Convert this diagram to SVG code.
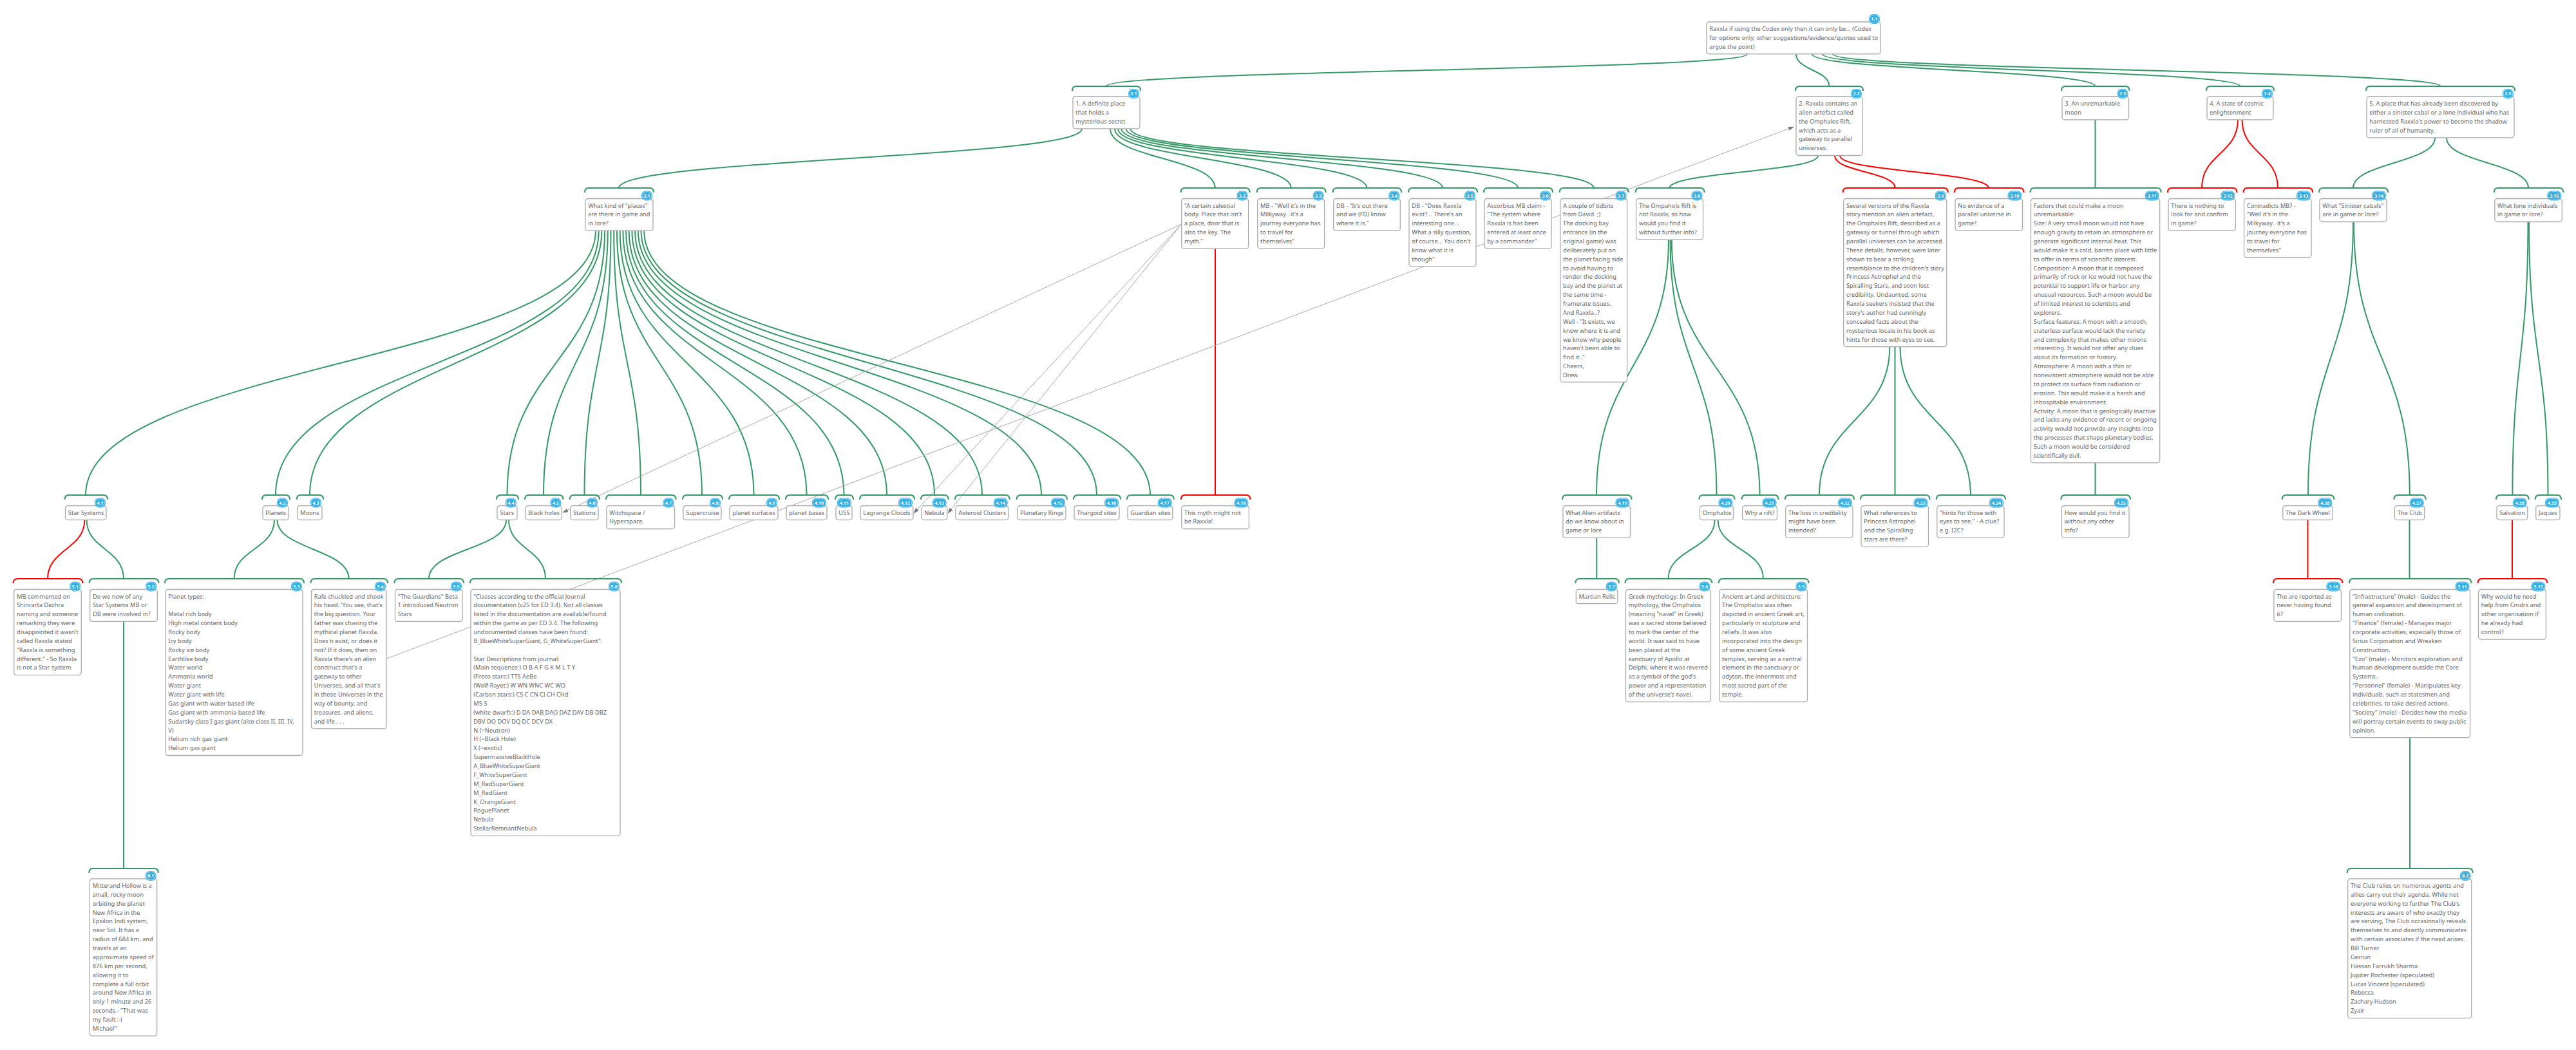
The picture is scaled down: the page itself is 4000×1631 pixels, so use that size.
<svg xmlns="http://www.w3.org/2000/svg" width="4000" height="1631" viewBox="0 0 4000 1631">
<style>
.c,.br{fill:none;stroke:#396;stroke-width:2}
.r{stroke:#f00}
.l{fill:none;stroke:#aaa;stroke-width:1;marker-end:url(#a)}
.b{fill:#fff;stroke:#aaa;stroke-width:1.3}
.t{font-family:"Noto Sans",sans-serif;font-size:9.25px;fill:#666}
.d{fill:#33ade2}
.e{fill:none;stroke:#cdeefa;stroke-width:.7}
.n{font-family:"Noto Sans",sans-serif;font-size:7px;font-weight:700;fill:#fff;text-anchor:middle}
</style>
<defs><marker id="a" markerUnits="userSpaceOnUse" markerWidth="9" markerHeight="7" refX="8" refY="3" orient="auto"><path d="M0 0L9 3L0 6z" fill="#777"/></marker></defs>
<rect width="4000" height="1631" fill="#fff"/>
<g id="connectors">
<path class="c" d="M2713 84C2713 109 1718 109 1718 134"/>
<path class="c" d="M2789 84C2789 109 2840.5 109 2840.5 134"/>
<path class="c" d="M2814 84C2814 109 3253.5 109 3253.5 134"/>
<path class="c" d="M2830 84C2830 109 3478.5 109 3478.5 134"/>
<path class="c" d="M2846 84C2846 109 3789.5 109 3789.5 134"/>
<path class="c" d="M1680 200C1680 246 961 246 961 292"/>
<path class="c" d="M1724 200C1724 246 1886.7 246 1886.7 292"/>
<path class="c" d="M1731 200C1731 246 2004.7 246 2004.7 292"/>
<path class="c" d="M1736 200C1736 246 2122.5 246 2122.5 292"/>
<path class="c" d="M1741.5 200C1741.5 246 2240 246 2240 292"/>
<path class="c" d="M1748.5 200C1748.5 246 2357 246 2357 292"/>
<path class="c" d="M1755.5 200C1755.5 246 2474.6 246 2474.6 292"/>
<path class="c" d="M2823 241.7C2823 267 2592.5 267 2592.5 292"/>
<path class="c r" d="M2849 241.7C2849 267 2942.7 267 2942.7 292"/>
<path class="c r" d="M2857 241.7C2857 267 3088 267 3088 292"/>
<path class="c" d="M3253.5 186V292"/>
<path class="c r" d="M3475 186C3475 239 3419 239 3419 292"/>
<path class="c r" d="M3481.5 186C3481.5 239 3537 239 3537 292"/>
<path class="c" d="M3781 214C3781 253 3654 253 3654 292"/>
<path class="c" d="M3799 214C3799 253 3926 253 3926 292"/>
<path class="c" d="M925 358C925 564 133 564 133 769"/>
<path class="c" d="M929.7 358C929.7 564 428 564 428 769"/>
<path class="c" d="M934.4 358C934.4 564 481 564 481 769"/>
<path class="c" d="M939.1 358C939.1 564 787.5 564 787.5 769"/>
<path class="c" d="M943.8 358C943.8 564 844 564 844 769"/>
<path class="c" d="M948.5 358C948.5 564 907.5 564 907.5 769"/>
<path class="c" d="M953.2 358C953.2 564 995 564 995 769"/>
<path class="c" d="M957.9 358C957.9 564 1090 564 1090 769"/>
<path class="c" d="M962.6 358C962.6 564 1170.5 564 1170.5 769"/>
<path class="c" d="M967.3 358C967.3 564 1252.5 564 1252.5 769"/>
<path class="c" d="M972 358C972 564 1310.5 564 1310.5 769"/>
<path class="c" d="M976.7 358C976.7 564 1377 564 1377 769"/>
<path class="c" d="M981.4 358C981.4 564 1451 564 1451 769"/>
<path class="c" d="M986.1 358C986.1 564 1525 564 1525 769"/>
<path class="c" d="M990.8 358C990.8 564 1617 564 1617 769"/>
<path class="c" d="M995.5 358C995.5 564 1703 564 1703 769"/>
<path class="c" d="M1000.2 358C1000.2 564 1786 564 1786 769"/>
<path class="c r" d="M1887 385.7V769"/>
<path class="c" d="M2591 371.7C2591 570 2479 570 2479 769"/>
<path class="c" d="M2593.5 371.7C2593.5 570 2665.5 570 2665.5 769"/>
<path class="c" d="M2595.7 371.7C2595.7 570 2732.5 570 2732.5 769"/>
<path class="c" d="M2934.4 538C2934.4 653 2825 653 2825 769"/>
<path class="c" d="M2942.5 538V769"/>
<path class="c" d="M2950.5 538C2950.5 653 3060 653 3060 769"/>
<path class="c" d="M3253.5 718.7V769"/>
<path class="c" d="M3654 344C3654 556 3584 556 3584 769"/>
<path class="c" d="M3655 344C3655 556 3741.8 556 3741.8 769"/>
<path class="c" d="M3925.5 344C3925.5 556 3901.4 556 3901.4 769"/>
<path class="c" d="M3927 344C3927 556 3956.5 556 3956.5 769"/>
<path class="c r" d="M131.4 807.7C131.4 853 74 853 74 899"/>
<path class="c" d="M134.6 807.7C134.6 853 192 853 192 899"/>
<path class="c" d="M426 807.7C426 853 363.5 853 363.5 899"/>
<path class="c" d="M430.5 807.7C430.5 853 541.7 853 541.7 899"/>
<path class="c" d="M786 807.7C786 853 666 853 666 899"/>
<path class="c" d="M790 807.7C790 853 847 853 847 899"/>
<path class="c" d="M2479.3 835.4V899"/>
<path class="c" d="M2662.7 807.7C2662.7 853 2590.5 853 2590.5 899"/>
<path class="c" d="M2667.6 807.7C2667.6 853 2738 853 2738 899"/>
<path class="c r" d="M3583.5 807.7V899"/>
<path class="c" d="M3741.5 807.7V899"/>
<path class="c r" d="M3901 807.7V899"/>
<path class="c" d="M192 965.4V1349"/>
<path class="c" d="M3742 1145.7V1349"/>
<path class="l" d="M600.5 1023L2785 197"/>
<path class="l" d="M1834.7 348L874 796"/>
<path class="l" d="M1834.7 348L1419 797"/>
<path class="l" d="M1834.7 348L1472 797"/>
</g>
<g id="n1_1"><rect class="b" x="2650" y="34" width="270" height="49.9" rx="4"/><text class="t" y="48"><tspan x="2654.3">Raxxla if using the Codex only then it can only be... (Codex</tspan><tspan x="2654.3" dy="13.87">for options only, other suggestions/evidence/quotes used to</tspan><tspan x="2654.3" dy="13.87">argue the point)</tspan></text><rect class="d" x="2902" y="22" width="17" height="15" rx="7"/><rect class="e" x="2903.2" y="23.2" width="14.6" height="12.6" rx="6"/><text class="n" x="2910.5" y="32.3">1.1</text></g>
<g id="n2_1"><path class="br" d="M1665 157q0-7 6-7H1765q6 0 6 7" transform="translate(0 -16)"/><rect class="b" x="1666" y="150" width="104" height="49.9" rx="4"/><text class="t" y="164"><tspan x="1670.3">1. A definite place</tspan><tspan x="1670.3" dy="13.87">that holds a</tspan><tspan x="1670.3" dy="13.87">mysterious secret</tspan></text><rect class="d" x="1752" y="138" width="17" height="15" rx="7"/><rect class="e" x="1753.2" y="139.2" width="14.6" height="12.6" rx="6"/><text class="n" x="1760.5" y="148.3">2.1</text></g>
<g id="n2_2"><path class="br" d="M2788 141q0-7 6-7H2887q6 0 6 7"/><rect class="b" x="2789" y="150" width="103" height="91.5" rx="4"/><text class="t" y="164"><tspan x="2793.3">2. Raxxla contains an</tspan><tspan x="2793.3" dy="13.87">alien artefact called</tspan><tspan x="2793.3" dy="13.87">the Omphalos Rift,</tspan><tspan x="2793.3" dy="13.87">which acts as a</tspan><tspan x="2793.3" dy="13.87">gateway to parallel</tspan><tspan x="2793.3" dy="13.87">universes.</tspan></text><rect class="d" x="2874" y="138" width="17" height="15" rx="7"/><rect class="e" x="2875.2" y="139.2" width="14.6" height="12.6" rx="6"/><text class="n" x="2882.5" y="148.3">2.2</text></g>
<g id="n2_3"><path class="br" d="M3201 141q0-7 6-7H3300.5q6 0 6 7"/><rect class="b" x="3202" y="150" width="103.5" height="36" rx="4"/><text class="t" y="164"><tspan x="3206.3">3. An unremarkable</tspan><tspan x="3206.3" dy="13.87">moon</tspan></text><rect class="d" x="3287.5" y="138" width="17" height="15" rx="7"/><rect class="e" x="3288.7" y="139.2" width="14.6" height="12.6" rx="6"/><text class="n" x="3296" y="148.3">2.3</text></g>
<g id="n2_4"><path class="br" d="M3426 141q0-7 6-7H3525q6 0 6 7"/><rect class="b" x="3427" y="150" width="103" height="36" rx="4"/><text class="t" y="164"><tspan x="3431.3">4. A state of cosmic</tspan><tspan x="3431.3" dy="13.87">enlightenment</tspan></text><rect class="d" x="3512" y="138" width="17" height="15" rx="7"/><rect class="e" x="3513.2" y="139.2" width="14.6" height="12.6" rx="6"/><text class="n" x="3520.5" y="148.3">2.4</text></g>
<g id="n2_5"><path class="br" d="M3674 141q0-7 6-7H3899q6 0 6 7"/><rect class="b" x="3675" y="150" width="229" height="63.8" rx="4"/><text class="t" y="164"><tspan x="3679.3">5. A place that has already been discovered by</tspan><tspan x="3679.3" dy="13.87">either a sinister cabal or a lone individual who has</tspan><tspan x="3679.3" dy="13.87">harnessed Raxxla's power to become the shadow</tspan><tspan x="3679.3" dy="13.87">ruler of all of humanity.</tspan></text><rect class="d" x="3886" y="138" width="17" height="15" rx="7"/><rect class="e" x="3887.2" y="139.2" width="14.6" height="12.6" rx="6"/><text class="n" x="3894.5" y="148.3">2.5</text></g>
<g id="n3_1"><path class="br" d="M908 299q0-7 6-7H1009q6 0 6 7"/><rect class="b" x="909" y="308.5" width="105" height="49.9" rx="4"/><text class="t" y="322.5"><tspan x="913.3">What kind of "places"</tspan><tspan x="913.3" dy="13.87">are there in game and</tspan><tspan x="913.3" dy="13.87">in lore?</tspan></text><rect class="d" x="996" y="296.5" width="17" height="15" rx="7"/><rect class="e" x="997.2" y="297.7" width="14.6" height="12.6" rx="6"/><text class="n" x="1004.5" y="306.8">3.1</text></g>
<g id="n3_2"><path class="br" d="M1833.7 299q0-7 6-7H1934.6q6 0 6 7"/><rect class="b" x="1834.7" y="308.5" width="103.9" height="77.7" rx="4"/><text class="t" y="322.5"><tspan x="1839">"A certain celestial</tspan><tspan x="1839" dy="13.87">body. Place that isn't</tspan><tspan x="1839" dy="13.87">a place, door that is</tspan><tspan x="1839" dy="13.87">also the key. The</tspan><tspan x="1839" dy="13.87">myth."</tspan></text><rect class="d" x="1920.6" y="296.5" width="17" height="15" rx="7"/><rect class="e" x="1921.8" y="297.7" width="14.6" height="12.6" rx="6"/><text class="n" x="1929.1" y="306.8">3.2</text></g>
<g id="n3_3"><path class="br" d="M1951.7 299q0-7 6-7H2052.6q6 0 6 7"/><rect class="b" x="1952.7" y="308.5" width="103.9" height="77.7" rx="4"/><text class="t" y="322.5"><tspan x="1957">MB - "Well it's in the</tspan><tspan x="1957" dy="13.87">Milkyway.. it's a</tspan><tspan x="1957" dy="13.87">journey everyone has</tspan><tspan x="1957" dy="13.87">to travel for</tspan><tspan x="1957" dy="13.87">themselves"</tspan></text><rect class="d" x="2038.6" y="296.5" width="17" height="15" rx="7"/><rect class="e" x="2039.8" y="297.7" width="14.6" height="12.6" rx="6"/><text class="n" x="2047.1" y="306.8">3.3</text></g>
<g id="n3_4"><path class="br" d="M2069.7 299q0-7 6-7H2170q6 0 6 7"/><rect class="b" x="2070.7" y="308.5" width="103.6" height="49.9" rx="4"/><text class="t" y="322.5"><tspan x="2075">DB - "It's out there</tspan><tspan x="2075" dy="13.87">and we (FD) know</tspan><tspan x="2075" dy="13.87">where it is."</tspan></text><rect class="d" x="2156.3" y="296.5" width="17" height="15" rx="7"/><rect class="e" x="2157.5" y="297.7" width="14.6" height="12.6" rx="6"/><text class="n" x="2164.8" y="306.8">3.4</text></g>
<g id="n3_5"><path class="br" d="M2187 299q0-7 6-7H2288q6 0 6 7"/><rect class="b" x="2188" y="308.5" width="104" height="105.4" rx="4"/><text class="t" y="322.5"><tspan x="2192.3">DB - "Does Raxxla</tspan><tspan x="2192.3" dy="13.87">exist?... There's an</tspan><tspan x="2192.3" dy="13.87">interesting one...</tspan><tspan x="2192.3" dy="13.87">What a silly question,</tspan><tspan x="2192.3" dy="13.87">of course... You don't</tspan><tspan x="2192.3" dy="13.87">know what it is</tspan><tspan x="2192.3" dy="13.87">though"</tspan></text><rect class="d" x="2274" y="296.5" width="17" height="15" rx="7"/><rect class="e" x="2275.2" y="297.7" width="14.6" height="12.6" rx="6"/><text class="n" x="2282.5" y="306.8">3.5</text></g>
<g id="n3_6"><path class="br" d="M2304 299q0-7 6-7H2405q6 0 6 7"/><rect class="b" x="2305" y="308.5" width="104" height="77.7" rx="4"/><text class="t" y="322.5"><tspan x="2309.3">Ascorbius MB claim -</tspan><tspan x="2309.3" dy="13.87">"The system where</tspan><tspan x="2309.3" dy="13.87">Raxxla is has been</tspan><tspan x="2309.3" dy="13.87">entered at least once</tspan><tspan x="2309.3" dy="13.87">by a commander"</tspan></text><rect class="d" x="2391" y="296.5" width="17" height="15" rx="7"/><rect class="e" x="2392.2" y="297.7" width="14.6" height="12.6" rx="6"/><text class="n" x="2399.5" y="306.8">3.6</text></g>
<g id="n3_7"><path class="br" d="M2421.7 299q0-7 6-7H2522.6q6 0 6 7"/><rect class="b" x="2422.7" y="308.5" width="103.9" height="285" rx="4"/><text class="t" y="322.5"><tspan x="2427">A couple of tidbits</tspan><tspan x="2427" dy="13.87">from David. ;)</tspan><tspan x="2427" dy="13.87">The docking bay</tspan><tspan x="2427" dy="13.87">entrance (in the</tspan><tspan x="2427" dy="13.87">original game) was</tspan><tspan x="2427" dy="13.87">deliberately put on</tspan><tspan x="2427" dy="13.87">the planet facing side</tspan><tspan x="2427" dy="13.87">to avoid having to</tspan><tspan x="2427" dy="13.87">render the docking</tspan><tspan x="2427" dy="13.87">bay and the planet at</tspan><tspan x="2427" dy="13.87">the same time -</tspan><tspan x="2427" dy="13.87">framerate issues.</tspan><tspan x="2427" dy="13.87">And Raxxla..?</tspan><tspan x="2427" dy="13.87">Well - "It exists, we</tspan><tspan x="2427" dy="13.87">know where it is and</tspan><tspan x="2427" dy="13.87">we know why people</tspan><tspan x="2427" dy="13.87">haven't been able to</tspan><tspan x="2427" dy="13.87">find it.."</tspan><tspan x="2427" dy="13.87">Cheers,</tspan><tspan x="2427" dy="13.87">Drew.</tspan></text><rect class="d" x="2508.6" y="296.5" width="17" height="15" rx="7"/><rect class="e" x="2509.8" y="297.7" width="14.6" height="12.6" rx="6"/><text class="n" x="2517.1" y="306.8">3.7</text></g>
<g id="n3_8"><path class="br" d="M2539.6 299q0-7 6-7H2640.5q6 0 6 7"/><rect class="b" x="2540.6" y="308.5" width="103.9" height="63.8" rx="4"/><text class="t" y="322.5"><tspan x="2544.9">The Ompahols Rift is</tspan><tspan x="2544.9" dy="13.87">not Raxxla, so how</tspan><tspan x="2544.9" dy="13.87">would you find it</tspan><tspan x="2544.9" dy="13.87">without further info?</tspan></text><rect class="d" x="2626.5" y="296.5" width="17" height="15" rx="7"/><rect class="e" x="2627.7" y="297.7" width="14.6" height="12.6" rx="6"/><text class="n" x="2635" y="306.8">3.8</text></g>
<g id="n3_9"><path class="br r" d="M2861.7 299q0-7 6-7H3018.8q6 0 6 7"/><rect class="b" x="2862.7" y="308.5" width="160.1" height="230" rx="4"/><text class="t" y="322.5"><tspan x="2867">Several versions of the Raxxla</tspan><tspan x="2867" dy="13.87">story mention an alien artefact,</tspan><tspan x="2867" dy="13.87">the Omphalos Rift, described as a</tspan><tspan x="2867" dy="13.87">gateway or tunnel through which</tspan><tspan x="2867" dy="13.87">parallel universes can be accessed.</tspan><tspan x="2867" dy="13.87">These details, however, were later</tspan><tspan x="2867" dy="13.87">shown to bear a striking</tspan><tspan x="2867" dy="13.87">resemblance to the children's story</tspan><tspan x="2867" dy="13.87">Princess Astrophel and the</tspan><tspan x="2867" dy="13.87">Spiralling Stars, and soon lost</tspan><tspan x="2867" dy="13.87">credibility. Undaunted, some</tspan><tspan x="2867" dy="13.87">Raxxla seekers insisted that the</tspan><tspan x="2867" dy="13.87">story's author had cunningly</tspan><tspan x="2867" dy="13.87">concealed facts about the</tspan><tspan x="2867" dy="13.87">mysterious locale in his book as</tspan><tspan x="2867" dy="13.87">hints for those with eyes to see.</tspan></text><rect class="d" x="3004.8" y="296.5" width="17" height="15" rx="7"/><rect class="e" x="3006" y="297.7" width="14.6" height="12.6" rx="6"/><text class="n" x="3013.3" y="306.8">3.9</text></g>
<g id="n3_10"><path class="br r" d="M3035 299q0-7 6-7H3136.5q6 0 6 7"/><rect class="b" x="3036" y="308.5" width="104.5" height="49.9" rx="4"/><text class="t" y="322.5"><tspan x="3040.3">No evidence of a</tspan><tspan x="3040.3" dy="13.87">parallel universe in</tspan><tspan x="3040.3" dy="13.87">game?</tspan></text><rect class="d" x="3117.5" y="296.5" width="22" height="15" rx="7"/><rect class="e" x="3118.7" y="297.7" width="19.6" height="12.6" rx="6"/><text class="n" x="3128.5" y="306.8">3.10</text></g>
<g id="n3_11"><path class="br" d="M3152.5 299q0-7 6-7H3349.7q6 0 6 7"/><rect class="b" x="3153.5" y="308.5" width="200.2" height="410.3" rx="4"/><text class="t" y="322.5"><tspan x="3157.8">Factors that could make a moon</tspan><tspan x="3157.8" dy="13.87">unremarkable:</tspan><tspan x="3157.8" dy="13.87">Size: A very small moon would not have</tspan><tspan x="3157.8" dy="13.87">enough gravity to retain an atmosphere or</tspan><tspan x="3157.8" dy="13.87">generate significant internal heat. This</tspan><tspan x="3157.8" dy="13.87">would make it a cold, barren place with little</tspan><tspan x="3157.8" dy="13.87">to offer in terms of scientific interest.</tspan><tspan x="3157.8" dy="13.87">Composition: A moon that is composed</tspan><tspan x="3157.8" dy="13.87">primarily of rock or ice would not have the</tspan><tspan x="3157.8" dy="13.87">potential to support life or harbor any</tspan><tspan x="3157.8" dy="13.87">unusual resources. Such a moon would be</tspan><tspan x="3157.8" dy="13.87">of limited interest to scientists and</tspan><tspan x="3157.8" dy="13.87">explorers.</tspan><tspan x="3157.8" dy="13.87">Surface features: A moon with a smooth,</tspan><tspan x="3157.8" dy="13.87">craterless surface would lack the variety</tspan><tspan x="3157.8" dy="13.87">and complexity that makes other moons</tspan><tspan x="3157.8" dy="13.87">interesting. It would not offer any clues</tspan><tspan x="3157.8" dy="13.87">about its formation or history.</tspan><tspan x="3157.8" dy="13.87">Atmosphere: A moon with a thin or</tspan><tspan x="3157.8" dy="13.87">nonexistent atmosphere would not be able</tspan><tspan x="3157.8" dy="13.87">to protect its surface from radiation or</tspan><tspan x="3157.8" dy="13.87">erosion. This would make it a harsh and</tspan><tspan x="3157.8" dy="13.87">inhospitable environment.</tspan><tspan x="3157.8" dy="13.87">Activity: A moon that is geologically inactive</tspan><tspan x="3157.8" dy="13.87">and lacks any evidence of recent or ongoing</tspan><tspan x="3157.8" dy="13.87">activity would not provide any insights into</tspan><tspan x="3157.8" dy="13.87">the processes that shape planetary bodies.</tspan><tspan x="3157.8" dy="13.87">Such a moon would be considered</tspan><tspan x="3157.8" dy="13.87">scientifically dull.</tspan></text><rect class="d" x="3330.7" y="296.5" width="22" height="15" rx="7"/><rect class="e" x="3331.9" y="297.7" width="19.6" height="12.6" rx="6"/><text class="n" x="3341.7" y="306.8">3.11</text></g>
<g id="n3_12"><path class="br r" d="M3366 299q0-7 6-7H3467.4q6 0 6 7"/><rect class="b" x="3367" y="308.5" width="104.4" height="49.9" rx="4"/><text class="t" y="322.5"><tspan x="3371.3">There is nothing to</tspan><tspan x="3371.3" dy="13.87">look for and confirm</tspan><tspan x="3371.3" dy="13.87">in game?</tspan></text><rect class="d" x="3448.4" y="296.5" width="22" height="15" rx="7"/><rect class="e" x="3449.6" y="297.7" width="19.6" height="12.6" rx="6"/><text class="n" x="3459.4" y="306.8">3.12</text></g>
<g id="n3_13"><path class="br r" d="M3483.6 299q0-7 6-7H3585q6 0 6 7"/><rect class="b" x="3484.6" y="308.5" width="104.4" height="91.5" rx="4"/><text class="t" y="322.5"><tspan x="3488.9">Contradicts MB? -</tspan><tspan x="3488.9" dy="13.87">"Well it's in the</tspan><tspan x="3488.9" dy="13.87">Milkyway.. it's a</tspan><tspan x="3488.9" dy="13.87">journey everyone has</tspan><tspan x="3488.9" dy="13.87">to travel for</tspan><tspan x="3488.9" dy="13.87">themselves"</tspan></text><rect class="d" x="3566" y="296.5" width="22" height="15" rx="7"/><rect class="e" x="3567.2" y="297.7" width="19.6" height="12.6" rx="6"/><text class="n" x="3577" y="306.8">3.13</text></g>
<g id="n3_14"><path class="br" d="M3601 299q0-7 6-7H3702q6 0 6 7"/><rect class="b" x="3602" y="308.5" width="104" height="36" rx="4"/><text class="t" y="322.5"><tspan x="3606.3">What "Sinister cabals"</tspan><tspan x="3606.3" dy="13.87">are in game or lore?</tspan></text><rect class="d" x="3683" y="296.5" width="22" height="15" rx="7"/><rect class="e" x="3684.2" y="297.7" width="19.6" height="12.6" rx="6"/><text class="n" x="3694" y="306.8">3.14</text></g>
<g id="n3_15"><path class="br" d="M3872.8 299q0-7 6-7H3974.3q6 0 6 7"/><rect class="b" x="3873.8" y="308.5" width="104.5" height="36" rx="4"/><text class="t" y="322.5"><tspan x="3878.1">What lone individuals</tspan><tspan x="3878.1" dy="13.87">in game or lore?</tspan></text><rect class="d" x="3955.3" y="296.5" width="22" height="15" rx="7"/><rect class="e" x="3956.5" y="297.7" width="19.6" height="12.6" rx="6"/><text class="n" x="3966.3" y="306.8">3.15</text></g>
<g id="n4_1"><path class="br" d="M100.5 776q0-7 6-7H161q6 0 6 7"/><rect class="b" x="101.5" y="785.5" width="63.5" height="22.2" rx="4"/><text class="t" y="799.5"><tspan x="105.8">Star Systems</tspan></text><rect class="d" x="147" y="773.5" width="17" height="15" rx="7"/><rect class="e" x="148.2" y="774.7" width="14.6" height="12.6" rx="6"/><text class="n" x="155.5" y="783.8">4.1</text></g>
<g id="n4_2"><path class="br" d="M407 776q0-7 6-7H444q6 0 6 7"/><rect class="b" x="408" y="785.5" width="40" height="22.2" rx="4"/><text class="t" y="799.5"><tspan x="412.3">Planets</tspan></text><rect class="d" x="430" y="773.5" width="17" height="15" rx="7"/><rect class="e" x="431.2" y="774.7" width="14.6" height="12.6" rx="6"/><text class="n" x="438.5" y="783.8">4.2</text></g>
<g id="n4_3"><path class="br" d="M460.7 776q0-7 6-7H496q6 0 6 7"/><rect class="b" x="461.7" y="785.5" width="38.3" height="22.2" rx="4"/><text class="t" y="799.5"><tspan x="466">Moons</tspan></text><rect class="d" x="482" y="773.5" width="17" height="15" rx="7"/><rect class="e" x="483.2" y="774.7" width="14.6" height="12.6" rx="6"/><text class="n" x="490.5" y="783.8">4.3</text></g>
<g id="n4_4"><path class="br" d="M771 776q0-7 6-7H799q6 0 6 7"/><rect class="b" x="772" y="785.5" width="31" height="22.2" rx="4"/><text class="t" y="799.5"><tspan x="776.3">Stars</tspan></text><rect class="d" x="785" y="773.5" width="17" height="15" rx="7"/><rect class="e" x="786.2" y="774.7" width="14.6" height="12.6" rx="6"/><text class="n" x="793.5" y="783.8">4.4</text></g>
<g id="n4_5"><path class="br" d="M815 776q0-7 6-7H868.4q6 0 6 7"/><rect class="b" x="816" y="785.5" width="56.4" height="22.2" rx="4"/><text class="t" y="799.5"><tspan x="820.3">Black holes</tspan></text><rect class="d" x="854.4" y="773.5" width="17" height="15" rx="7"/><rect class="e" x="855.6" y="774.7" width="14.6" height="12.6" rx="6"/><text class="n" x="862.9" y="783.8">4.5</text></g>
<g id="n4_6"><path class="br" d="M884.8 776q0-7 6-7H925q6 0 6 7"/><rect class="b" x="885.8" y="785.5" width="43.2" height="22.2" rx="4"/><text class="t" y="799.5"><tspan x="890.1">Stations</tspan></text><rect class="d" x="911" y="773.5" width="17" height="15" rx="7"/><rect class="e" x="912.2" y="774.7" width="14.6" height="12.6" rx="6"/><text class="n" x="919.5" y="783.8">4.6</text></g>
<g id="n4_7"><path class="br" d="M941 776q0-7 6-7H1043.6q6 0 6 7"/><rect class="b" x="942" y="785.5" width="105.6" height="36" rx="4"/><text class="t" y="799.5"><tspan x="946.3">Witchspace /</tspan><tspan x="946.3" dy="13.87">Hyperspace</tspan></text><rect class="d" x="1029.6" y="773.5" width="17" height="15" rx="7"/><rect class="e" x="1030.8" y="774.7" width="14.6" height="12.6" rx="6"/><text class="n" x="1038.1" y="783.8">4.7</text></g>
<g id="n4_8"><path class="br" d="M1060 776q0-7 6-7H1116q6 0 6 7"/><rect class="b" x="1061" y="785.5" width="59" height="22.2" rx="4"/><text class="t" y="799.5"><tspan x="1065.3">Supercruise</tspan></text><rect class="d" x="1102" y="773.5" width="17" height="15" rx="7"/><rect class="e" x="1103.2" y="774.7" width="14.6" height="12.6" rx="6"/><text class="n" x="1110.5" y="783.8">4.8</text></g>
<g id="n4_9"><path class="br" d="M1132 776q0-7 6-7H1204q6 0 6 7"/><rect class="b" x="1133" y="785.5" width="75" height="22.2" rx="4"/><text class="t" y="799.5"><tspan x="1137.3">planet surfaces</tspan></text><rect class="d" x="1190" y="773.5" width="17" height="15" rx="7"/><rect class="e" x="1191.2" y="774.7" width="14.6" height="12.6" rx="6"/><text class="n" x="1198.5" y="783.8">4.9</text></g>
<g id="n4_10"><path class="br" d="M1220 776q0-7 6-7H1280q6 0 6 7"/><rect class="b" x="1221" y="785.5" width="63" height="22.2" rx="4"/><text class="t" y="799.5"><tspan x="1225.3">planet bases</tspan></text><rect class="d" x="1261" y="773.5" width="22" height="15" rx="7"/><rect class="e" x="1262.2" y="774.7" width="19.6" height="12.6" rx="6"/><text class="n" x="1272" y="783.8">4.10</text></g>
<g id="n4_11"><path class="br" d="M1297 776q0-7 6-7H1319q6 0 6 7"/><rect class="b" x="1298" y="785.5" width="25" height="22.2" rx="4"/><text class="t" y="799.5"><tspan x="1302.3">USS</tspan></text><rect class="d" x="1300" y="773.5" width="22" height="15" rx="7"/><rect class="e" x="1301.2" y="774.7" width="19.6" height="12.6" rx="6"/><text class="n" x="1311" y="783.8">4.11</text></g>
<g id="n4_12"><path class="br" d="M1335 776q0-7 6-7H1414q6 0 6 7"/><rect class="b" x="1336" y="785.5" width="82" height="22.2" rx="4"/><text class="t" y="799.5"><tspan x="1340.3">Lagrange Clouds</tspan></text><rect class="d" x="1395" y="773.5" width="22" height="15" rx="7"/><rect class="e" x="1396.2" y="774.7" width="19.6" height="12.6" rx="6"/><text class="n" x="1406" y="783.8">4.12</text></g>
<g id="n4_13"><path class="br" d="M1430 776q0-7 6-7H1466.7q6 0 6 7"/><rect class="b" x="1431" y="785.5" width="39.7" height="22.2" rx="4"/><text class="t" y="799.5"><tspan x="1435.3">Nebula</tspan></text><rect class="d" x="1447.7" y="773.5" width="22" height="15" rx="7"/><rect class="e" x="1448.9" y="774.7" width="19.6" height="12.6" rx="6"/><text class="n" x="1458.7" y="783.8">4.13</text></g>
<g id="n4_14"><path class="br" d="M1483 776q0-7 6-7H1561.7q6 0 6 7"/><rect class="b" x="1484" y="785.5" width="81.7" height="22.2" rx="4"/><text class="t" y="799.5"><tspan x="1488.3">Asteroid Clusters</tspan></text><rect class="d" x="1542.7" y="773.5" width="22" height="15" rx="7"/><rect class="e" x="1543.9" y="774.7" width="19.6" height="12.6" rx="6"/><text class="n" x="1553.7" y="783.8">4.14</text></g>
<g id="n4_15"><path class="br" d="M1578.7 776q0-7 6-7H1651q6 0 6 7"/><rect class="b" x="1579.7" y="785.5" width="75.3" height="22.2" rx="4"/><text class="t" y="799.5"><tspan x="1584">Planetary Rings</tspan></text><rect class="d" x="1632" y="773.5" width="22" height="15" rx="7"/><rect class="e" x="1633.2" y="774.7" width="19.6" height="12.6" rx="6"/><text class="n" x="1643" y="783.8">4.15</text></g>
<g id="n4_16"><path class="br" d="M1667 776q0-7 6-7H1734q6 0 6 7"/><rect class="b" x="1668" y="785.5" width="70" height="22.2" rx="4"/><text class="t" y="799.5"><tspan x="1672.3">Thargoid sites</tspan></text><rect class="d" x="1715" y="773.5" width="22" height="15" rx="7"/><rect class="e" x="1716.2" y="774.7" width="19.6" height="12.6" rx="6"/><text class="n" x="1726" y="783.8">4.16</text></g>
<g id="n4_17"><path class="br" d="M1750 776q0-7 6-7H1816.8q6 0 6 7"/><rect class="b" x="1751" y="785.5" width="69.8" height="22.2" rx="4"/><text class="t" y="799.5"><tspan x="1755.3">Guardian sites</tspan></text><rect class="d" x="1797.8" y="773.5" width="22" height="15" rx="7"/><rect class="e" x="1799" y="774.7" width="19.6" height="12.6" rx="6"/><text class="n" x="1808.8" y="783.8">4.17</text></g>
<g id="n4_18"><path class="br r" d="M1833.8 776q0-7 6-7H1935.4q6 0 6 7"/><rect class="b" x="1834.8" y="785.5" width="104.6" height="36" rx="4"/><text class="t" y="799.5"><tspan x="1839.1">This myth might not</tspan><tspan x="1839.1" dy="13.87">be Raxxla!</tspan></text><rect class="d" x="1916.4" y="773.5" width="22" height="15" rx="7"/><rect class="e" x="1917.6" y="774.7" width="19.6" height="12.6" rx="6"/><text class="n" x="1927.4" y="783.8">4.18</text></g>
<g id="n4_19"><path class="br" d="M2426 776q0-7 6-7H2527.5q6 0 6 7"/><rect class="b" x="2427" y="785.5" width="104.5" height="49.9" rx="4"/><text class="t" y="799.5"><tspan x="2431.3">What Alien artifacts</tspan><tspan x="2431.3" dy="13.87">do we know about in</tspan><tspan x="2431.3" dy="13.87">game or lore</tspan></text><rect class="d" x="2508.5" y="773.5" width="22" height="15" rx="7"/><rect class="e" x="2509.7" y="774.7" width="19.6" height="12.6" rx="6"/><text class="n" x="2519.5" y="783.8">4.19</text></g>
<g id="n4_20"><path class="br" d="M2638.5 776q0-7 6-7H2687.5q6 0 6 7"/><rect class="b" x="2639.5" y="785.5" width="52" height="22.2" rx="4"/><text class="t" y="799.5"><tspan x="2643.8">Omphalos</tspan></text><rect class="d" x="2668.5" y="773.5" width="22" height="15" rx="7"/><rect class="e" x="2669.7" y="774.7" width="19.6" height="12.6" rx="6"/><text class="n" x="2679.5" y="783.8">4.20</text></g>
<g id="n4_21"><path class="br" d="M2704.5 776q0-7 6-7H2755.5q6 0 6 7"/><rect class="b" x="2705.5" y="785.5" width="54" height="22.2" rx="4"/><text class="t" y="799.5"><tspan x="2709.8">Why a rift?</tspan></text><rect class="d" x="2736.5" y="773.5" width="22" height="15" rx="7"/><rect class="e" x="2737.7" y="774.7" width="19.6" height="12.6" rx="6"/><text class="n" x="2747.5" y="783.8">4.21</text></g>
<g id="n4_22"><path class="br" d="M2771.8 776q0-7 6-7H2873q6 0 6 7"/><rect class="b" x="2772.8" y="785.5" width="104.2" height="49.9" rx="4"/><text class="t" y="799.5"><tspan x="2777.1">The loss in credibility</tspan><tspan x="2777.1" dy="13.87">might have been</tspan><tspan x="2777.1" dy="13.87">intended?</tspan></text><rect class="d" x="2854" y="773.5" width="22" height="15" rx="7"/><rect class="e" x="2855.2" y="774.7" width="19.6" height="12.6" rx="6"/><text class="n" x="2865" y="783.8">4.22</text></g>
<g id="n4_23"><path class="br" d="M2889 776q0-7 6-7H2990.5q6 0 6 7"/><rect class="b" x="2890" y="785.5" width="104.5" height="63.8" rx="4"/><text class="t" y="799.5"><tspan x="2894.3">What references to</tspan><tspan x="2894.3" dy="13.87">Princess Astrophel</tspan><tspan x="2894.3" dy="13.87">and the Spiralling</tspan><tspan x="2894.3" dy="13.87">stars are there?</tspan></text><rect class="d" x="2971.5" y="773.5" width="22" height="15" rx="7"/><rect class="e" x="2972.7" y="774.7" width="19.6" height="12.6" rx="6"/><text class="n" x="2982.5" y="783.8">4.23</text></g>
<g id="n4_24"><path class="br" d="M3006.8 776q0-7 6-7H3108q6 0 6 7"/><rect class="b" x="3007.8" y="785.5" width="104.2" height="49.9" rx="4"/><text class="t" y="799.5"><tspan x="3012.1">"hints for those with</tspan><tspan x="3012.1" dy="13.87">eyes to see." - A clue?</tspan><tspan x="3012.1" dy="13.87">e.g. I2C?</tspan></text><rect class="d" x="3089" y="773.5" width="22" height="15" rx="7"/><rect class="e" x="3090.2" y="774.7" width="19.6" height="12.6" rx="6"/><text class="n" x="3100" y="783.8">4.24</text></g>
<g id="n4_25"><path class="br" d="M3200.4 776q0-7 6-7H3302q6 0 6 7"/><rect class="b" x="3201.4" y="785.5" width="104.6" height="49.9" rx="4"/><text class="t" y="799.5"><tspan x="3205.7">How would you find it</tspan><tspan x="3205.7" dy="13.87">without any other</tspan><tspan x="3205.7" dy="13.87">info?</tspan></text><rect class="d" x="3283" y="773.5" width="22" height="15" rx="7"/><rect class="e" x="3284.2" y="774.7" width="19.6" height="12.6" rx="6"/><text class="n" x="3294" y="783.8">4.25</text></g>
<g id="n4_26"><path class="br" d="M3543.7 776q0-7 6-7H3618.3q6 0 6 7"/><rect class="b" x="3544.7" y="785.5" width="77.6" height="22.2" rx="4"/><text class="t" y="799.5"><tspan x="3549">The Dark Wheel</tspan></text><rect class="d" x="3599.3" y="773.5" width="22" height="15" rx="7"/><rect class="e" x="3600.5" y="774.7" width="19.6" height="12.6" rx="6"/><text class="n" x="3610.3" y="783.8">4.26</text></g>
<g id="n4_27"><path class="br" d="M3717.4 776q0-7 6-7H3760.7q6 0 6 7"/><rect class="b" x="3718.4" y="785.5" width="46.3" height="22.2" rx="4"/><text class="t" y="799.5"><tspan x="3722.7">The Club</tspan></text><rect class="d" x="3741.7" y="773.5" width="22" height="15" rx="7"/><rect class="e" x="3742.9" y="774.7" width="19.6" height="12.6" rx="6"/><text class="n" x="3752.7" y="783.8">4.27</text></g>
<g id="n4_28"><path class="br" d="M3876 776q0-7 6-7H3920.7q6 0 6 7"/><rect class="b" x="3877" y="785.5" width="47.7" height="22.2" rx="4"/><text class="t" y="799.5"><tspan x="3881.3">Salvation</tspan></text><rect class="d" x="3901.7" y="773.5" width="22" height="15" rx="7"/><rect class="e" x="3902.9" y="774.7" width="19.6" height="12.6" rx="6"/><text class="n" x="3912.7" y="783.8">4.28</text></g>
<g id="n4_29"><path class="br" d="M3936.7 776q0-7 6-7H3971q6 0 6 7"/><rect class="b" x="3937.7" y="785.5" width="37.3" height="22.2" rx="4"/><text class="t" y="799.5"><tspan x="3942">Jaques</tspan></text><rect class="d" x="3952" y="773.5" width="22" height="15" rx="7"/><rect class="e" x="3953.2" y="774.7" width="19.6" height="12.6" rx="6"/><text class="n" x="3963" y="783.8">4.29</text></g>
<g id="n5_1"><path class="br r" d="M20.7 906q0-7 6-7H122.3q6 0 6 7"/><rect class="b" x="21.7" y="915.5" width="104.6" height="133.1" rx="4"/><text class="t" y="929.5"><tspan x="26">MB commented on</tspan><tspan x="26" dy="13.87">Shinrarta Dezhra</tspan><tspan x="26" dy="13.87">naming and someone</tspan><tspan x="26" dy="13.87">remarking they were</tspan><tspan x="26" dy="13.87">disappointed it wasn't</tspan><tspan x="26" dy="13.87">called Raxxla stated</tspan><tspan x="26" dy="13.87">"Raxxla is something</tspan><tspan x="26" dy="13.87">different." - So Raxxla</tspan><tspan x="26" dy="13.87">is not a Star system</tspan></text><rect class="d" x="108.3" y="903.5" width="17" height="15" rx="7"/><rect class="e" x="109.5" y="904.7" width="14.6" height="12.6" rx="6"/><text class="n" x="116.8" y="913.8">5.1</text></g>
<g id="n5_2"><path class="br" d="M138.7 906q0-7 6-7H240.3q6 0 6 7"/><rect class="b" x="139.7" y="915.5" width="104.6" height="49.9" rx="4"/><text class="t" y="929.5"><tspan x="144">Do we now of any</tspan><tspan x="144" dy="13.87">Star Systems MB or</tspan><tspan x="144" dy="13.87">DB were involved in?</tspan></text><rect class="d" x="226.3" y="903.5" width="17" height="15" rx="7"/><rect class="e" x="227.5" y="904.7" width="14.6" height="12.6" rx="6"/><text class="n" x="234.8" y="913.8">5.2</text></g>
<g id="n5_3"><path class="br" d="M256 906q0-7 6-7H466q6 0 6 7"/><rect class="b" x="257" y="915.5" width="213" height="258" rx="4"/><text class="t" y="929.5"><tspan x="261.3">Planet types:</tspan><tspan x="261.3" dy="27.74">Metal rich body</tspan><tspan x="261.3" dy="13.87">High metal content body</tspan><tspan x="261.3" dy="13.87">Rocky body</tspan><tspan x="261.3" dy="13.87">Icy body</tspan><tspan x="261.3" dy="13.87">Rocky ice body</tspan><tspan x="261.3" dy="13.87">Earthlike body</tspan><tspan x="261.3" dy="13.87">Water world</tspan><tspan x="261.3" dy="13.87">Ammonia world</tspan><tspan x="261.3" dy="13.87">Water giant</tspan><tspan x="261.3" dy="13.87">Water giant with life</tspan><tspan x="261.3" dy="13.87">Gas giant with water based life</tspan><tspan x="261.3" dy="13.87">Gas giant with ammonia based life</tspan><tspan x="261.3" dy="13.87">Sudarsky class I gas giant (also class II, III, IV,</tspan><tspan x="261.3" dy="13.87">V)</tspan><tspan x="261.3" dy="13.87">Helium rich gas giant</tspan><tspan x="261.3" dy="13.87">Helium gas giant</tspan></text><rect class="d" x="452" y="903.5" width="17" height="15" rx="7"/><rect class="e" x="453.2" y="904.7" width="14.6" height="12.6" rx="6"/><text class="n" x="460.5" y="913.8">5.3</text></g>
<g id="n5_4"><path class="br" d="M482.4 906q0-7 6-7H596q6 0 6 7"/><rect class="b" x="483.4" y="915.5" width="116.6" height="216.4" rx="4"/><text class="t" y="929.5"><tspan x="487.7">Rafe chuckled and shook</tspan><tspan x="487.7" dy="13.87">his head. 'You see, that's</tspan><tspan x="487.7" dy="13.87">the big question. Your</tspan><tspan x="487.7" dy="13.87">father was chasing the</tspan><tspan x="487.7" dy="13.87">mythical planet Raxxla.</tspan><tspan x="487.7" dy="13.87">Does it exist, or does it</tspan><tspan x="487.7" dy="13.87">not? If it does, then on</tspan><tspan x="487.7" dy="13.87">Raxxla there's an alien</tspan><tspan x="487.7" dy="13.87">construct that's a</tspan><tspan x="487.7" dy="13.87">gateway to other</tspan><tspan x="487.7" dy="13.87">Universes, and all that's</tspan><tspan x="487.7" dy="13.87">in those Universes in the</tspan><tspan x="487.7" dy="13.87">way of bounty, and</tspan><tspan x="487.7" dy="13.87">treasures, and aliens,</tspan><tspan x="487.7" dy="13.87">and life . . .</tspan></text><rect class="d" x="582" y="903.5" width="17" height="15" rx="7"/><rect class="e" x="583.2" y="904.7" width="14.6" height="12.6" rx="6"/><text class="n" x="590.5" y="913.8">5.4</text></g>
<g id="n5_5"><path class="br" d="M612.5 906q0-7 6-7H714q6 0 6 7"/><rect class="b" x="613.5" y="915.5" width="104.5" height="49.9" rx="4"/><text class="t" y="929.5"><tspan x="617.8">"The Guardians" Beta</tspan><tspan x="617.8" dy="13.87">1 introduced Neutron</tspan><tspan x="617.8" dy="13.87">Stars</tspan></text><rect class="d" x="700" y="903.5" width="17" height="15" rx="7"/><rect class="e" x="701.2" y="904.7" width="14.6" height="12.6" rx="6"/><text class="n" x="708.5" y="913.8">5.5</text></g>
<g id="n5_6"><path class="br" d="M730 906q0-7 6-7H959q6 0 6 7"/><rect class="b" x="731" y="915.5" width="232" height="382.8" rx="4"/><text class="t" y="929.5"><tspan x="735.3">"Classes according to the official Journal</tspan><tspan x="735.3" dy="13.87">documentation (v25 for ED 3.4). Not all classes</tspan><tspan x="735.3" dy="13.87">listed in the documentation are available/found</tspan><tspan x="735.3" dy="13.87">within the game as per ED 3.4. The following</tspan><tspan x="735.3" dy="13.87">undocumented classes have been found:</tspan><tspan x="735.3" dy="13.87">B_BlueWhiteSuperGiant, G_WhiteSuperGiant".</tspan><tspan x="735.3" dy="27.74">Star Descriptions from journal:</tspan><tspan x="735.3" dy="13.87">(Main sequence:) O B A F G K M L T Y</tspan><tspan x="735.3" dy="13.87">(Proto stars:) TTS AeBe</tspan><tspan x="735.3" dy="13.87">(Wolf-Rayet:) W WN WNC WC WO</tspan><tspan x="735.3" dy="13.87">(Carbon stars:) CS C CN CJ CH CHd</tspan><tspan x="735.3" dy="13.87">MS S</tspan><tspan x="735.3" dy="13.87">(white dwarfs:) D DA DAB DAO DAZ DAV DB DBZ</tspan><tspan x="735.3" dy="13.87">DBV DO DOV DQ DC DCV DX</tspan><tspan x="735.3" dy="13.87">N (=Neutron)</tspan><tspan x="735.3" dy="13.87">H (=Black Hole)</tspan><tspan x="735.3" dy="13.87">X (=exotic)</tspan><tspan x="735.3" dy="13.87">SupermassiveBlackHole</tspan><tspan x="735.3" dy="13.87">A_BlueWhiteSuperGiant</tspan><tspan x="735.3" dy="13.87">F_WhiteSuperGiant</tspan><tspan x="735.3" dy="13.87">M_RedSuperGiant</tspan><tspan x="735.3" dy="13.87">M_RedGiant</tspan><tspan x="735.3" dy="13.87">K_OrangeGiant</tspan><tspan x="735.3" dy="13.87">RoguePlanet</tspan><tspan x="735.3" dy="13.87">Nebula</tspan><tspan x="735.3" dy="13.87">StellarRemnantNebula</tspan></text><rect class="d" x="945" y="903.5" width="17" height="15" rx="7"/><rect class="e" x="946.2" y="904.7" width="14.6" height="12.6" rx="6"/><text class="n" x="953.5" y="913.8">5.6</text></g>
<g id="n5_7"><path class="br" d="M2446.3 906q0-7 6-7H2507.9q6 0 6 7"/><rect class="b" x="2447.3" y="915.5" width="64.6" height="22.2" rx="4"/><text class="t" y="929.5"><tspan x="2451.6">Martian Relic</tspan></text><rect class="d" x="2493.9" y="903.5" width="17" height="15" rx="7"/><rect class="e" x="2495.1" y="904.7" width="14.6" height="12.6" rx="6"/><text class="n" x="2502.4" y="913.8">5.7</text></g>
<g id="n5_8"><path class="br" d="M2523.5 906q0-7 6-7H2652.4q6 0 6 7"/><rect class="b" x="2524.5" y="915.5" width="131.9" height="174.7" rx="4"/><text class="t" y="929.5"><tspan x="2528.8">Greek mythology: In Greek</tspan><tspan x="2528.8" dy="13.87">mythology, the Omphalos</tspan><tspan x="2528.8" dy="13.87">(meaning "navel" in Greek)</tspan><tspan x="2528.8" dy="13.87">was a sacred stone believed</tspan><tspan x="2528.8" dy="13.87">to mark the center of the</tspan><tspan x="2528.8" dy="13.87">world. It was said to have</tspan><tspan x="2528.8" dy="13.87">been placed at the</tspan><tspan x="2528.8" dy="13.87">sanctuary of Apollo at</tspan><tspan x="2528.8" dy="13.87">Delphi, where it was revered</tspan><tspan x="2528.8" dy="13.87">as a symbol of the god's</tspan><tspan x="2528.8" dy="13.87">power and a representation</tspan><tspan x="2528.8" dy="13.87">of the universe's navel.</tspan></text><rect class="d" x="2638.4" y="903.5" width="17" height="15" rx="7"/><rect class="e" x="2639.6" y="904.7" width="14.6" height="12.6" rx="6"/><text class="n" x="2646.9" y="913.8">5.8</text></g>
<g id="n5_9"><path class="br" d="M2668.7 906q0-7 6-7H2802.5q6 0 6 7"/><rect class="b" x="2669.7" y="915.5" width="136.8" height="174.7" rx="4"/><text class="t" y="929.5"><tspan x="2674">Ancient art and architecture:</tspan><tspan x="2674" dy="13.87">The Omphalos was often</tspan><tspan x="2674" dy="13.87">depicted in ancient Greek art,</tspan><tspan x="2674" dy="13.87">particularly in sculpture and</tspan><tspan x="2674" dy="13.87">reliefs. It was also</tspan><tspan x="2674" dy="13.87">incorporated into the design</tspan><tspan x="2674" dy="13.87">of some ancient Greek</tspan><tspan x="2674" dy="13.87">temples, serving as a central</tspan><tspan x="2674" dy="13.87">element in the sanctuary or</tspan><tspan x="2674" dy="13.87">adyton, the innermost and</tspan><tspan x="2674" dy="13.87">most sacred part of the</tspan><tspan x="2674" dy="13.87">temple.</tspan></text><rect class="d" x="2788.5" y="903.5" width="17" height="15" rx="7"/><rect class="e" x="2789.7" y="904.7" width="14.6" height="12.6" rx="6"/><text class="n" x="2797" y="913.8">5.9</text></g>
<g id="n5_10"><path class="br r" d="M3529.9 906q0-7 6-7H3631.4q6 0 6 7"/><rect class="b" x="3530.9" y="915.5" width="104.5" height="49.9" rx="4"/><text class="t" y="929.5"><tspan x="3535.2">The are reported as</tspan><tspan x="3535.2" dy="13.87">never having found</tspan><tspan x="3535.2" dy="13.87">it?</tspan></text><rect class="d" x="3612.4" y="903.5" width="22" height="15" rx="7"/><rect class="e" x="3613.6" y="904.7" width="19.6" height="12.6" rx="6"/><text class="n" x="3623.4" y="913.8">5.10</text></g>
<g id="n5_11"><path class="br" d="M3647.8 906q0-7 6-7H3831.5q6 0 6 7"/><rect class="b" x="3648.8" y="915.5" width="186.7" height="230.2" rx="4"/><text class="t" y="929.5"><tspan x="3653.1">"Infrastructure" (male) - Guides the</tspan><tspan x="3653.1" dy="13.87">general expansion and development of</tspan><tspan x="3653.1" dy="13.87">human civilization.</tspan><tspan x="3653.1" dy="13.87">"Finance" (female) - Manages major</tspan><tspan x="3653.1" dy="13.87">corporate activities, especially those of</tspan><tspan x="3653.1" dy="13.87">Sirius Corporation and Wreaken</tspan><tspan x="3653.1" dy="13.87">Construction.</tspan><tspan x="3653.1" dy="13.87">"Exo" (male) - Monitors exploration and</tspan><tspan x="3653.1" dy="13.87">human development outside the Core</tspan><tspan x="3653.1" dy="13.87">Systems.</tspan><tspan x="3653.1" dy="13.87">"Personnel" (female) - Manipulates key</tspan><tspan x="3653.1" dy="13.87">individuals, such as statesmen and</tspan><tspan x="3653.1" dy="13.87">celebrities, to take desired actions.</tspan><tspan x="3653.1" dy="13.87">"Society" (male) - Decides how the media</tspan><tspan x="3653.1" dy="13.87">will portray certain events to sway public</tspan><tspan x="3653.1" dy="13.87">opinion.</tspan></text><rect class="d" x="3812.5" y="903.5" width="22" height="15" rx="7"/><rect class="e" x="3813.7" y="904.7" width="19.6" height="12.6" rx="6"/><text class="n" x="3823.5" y="913.8">5.11</text></g>
<g id="n5_12"><path class="br r" d="M3847.5 906q0-7 6-7H3949.4q6 0 6 7"/><rect class="b" x="3848.5" y="915.5" width="104.9" height="77.7" rx="4"/><text class="t" y="929.5"><tspan x="3852.8">Why would he need</tspan><tspan x="3852.8" dy="13.87">help from Cmdrs and</tspan><tspan x="3852.8" dy="13.87">other organisation if</tspan><tspan x="3852.8" dy="13.87">he already had</tspan><tspan x="3852.8" dy="13.87">control?</tspan></text><rect class="d" x="3930.4" y="903.5" width="22" height="15" rx="7"/><rect class="e" x="3931.6" y="904.7" width="19.6" height="12.6" rx="6"/><text class="n" x="3941.4" y="913.8">5.12</text></g>
<g id="n6_1"><path class="br" d="M138.3 1356q0-7 6-7H239.7q6 0 6 7"/><rect class="b" x="139.3" y="1365" width="104.4" height="244.1" rx="4"/><text class="t" y="1379"><tspan x="143.7">Mitterand Hollow is a</tspan><tspan x="143.7" dy="13.87">small, rocky moon</tspan><tspan x="143.7" dy="13.87">orbiting the planet</tspan><tspan x="143.7" dy="13.87">New Africa in the</tspan><tspan x="143.7" dy="13.87">Epsilon Indi system,</tspan><tspan x="143.7" dy="13.87">near Sol. It has a</tspan><tspan x="143.7" dy="13.87">radius of 684 km, and</tspan><tspan x="143.7" dy="13.87">travels at an</tspan><tspan x="143.7" dy="13.87">approximate speed of</tspan><tspan x="143.7" dy="13.87">876 km per second,</tspan><tspan x="143.7" dy="13.87">allowing it to</tspan><tspan x="143.7" dy="13.87">complete a full orbit</tspan><tspan x="143.7" dy="13.87">around New Africa in</tspan><tspan x="143.7" dy="13.87">only 1 minute and 26</tspan><tspan x="143.7" dy="13.87">seconds.- "That was</tspan><tspan x="143.7" dy="13.87">my fault :-(</tspan><tspan x="143.7" dy="13.87">Michael"</tspan></text><rect class="d" x="225.7" y="1353" width="17" height="15" rx="7"/><rect class="e" x="226.9" y="1354.2" width="14.6" height="12.6" rx="6"/><text class="n" x="234.2" y="1363.3">6.1</text></g>
<g id="n6_2"><path class="br" d="M3644.7 1356q0-7 6-7H3833.7q6 0 6 7"/><rect class="b" x="3645.7" y="1365" width="192" height="216.4" rx="4"/><text class="t" y="1379"><tspan x="3650">The Club relies on numerous agents and</tspan><tspan x="3650" dy="13.87">allies carry out their agenda. While not</tspan><tspan x="3650" dy="13.87">everyone working to further The Club's</tspan><tspan x="3650" dy="13.87">interests are aware of who exactly they</tspan><tspan x="3650" dy="13.87">are serving, The Club occasionally reveals</tspan><tspan x="3650" dy="13.87">themselves to and directly communicates</tspan><tspan x="3650" dy="13.87">with certain associates if the need arises.</tspan><tspan x="3650" dy="13.87">Bill Turner</tspan><tspan x="3650" dy="13.87">Gerrun</tspan><tspan x="3650" dy="13.87">Hassan Farrukh Sharma</tspan><tspan x="3650" dy="13.87">Jupiter Rochester (speculated)</tspan><tspan x="3650" dy="13.87">Lucas Vincent (speculated)</tspan><tspan x="3650" dy="13.87">Rebecca</tspan><tspan x="3650" dy="13.87">Zachary Hudson</tspan><tspan x="3650" dy="13.87">Zyair</tspan></text><rect class="d" x="3819.7" y="1353" width="17" height="15" rx="7"/><rect class="e" x="3820.9" y="1354.2" width="14.6" height="12.6" rx="6"/><text class="n" x="3828.2" y="1363.3">6.2</text></g>
</svg>
